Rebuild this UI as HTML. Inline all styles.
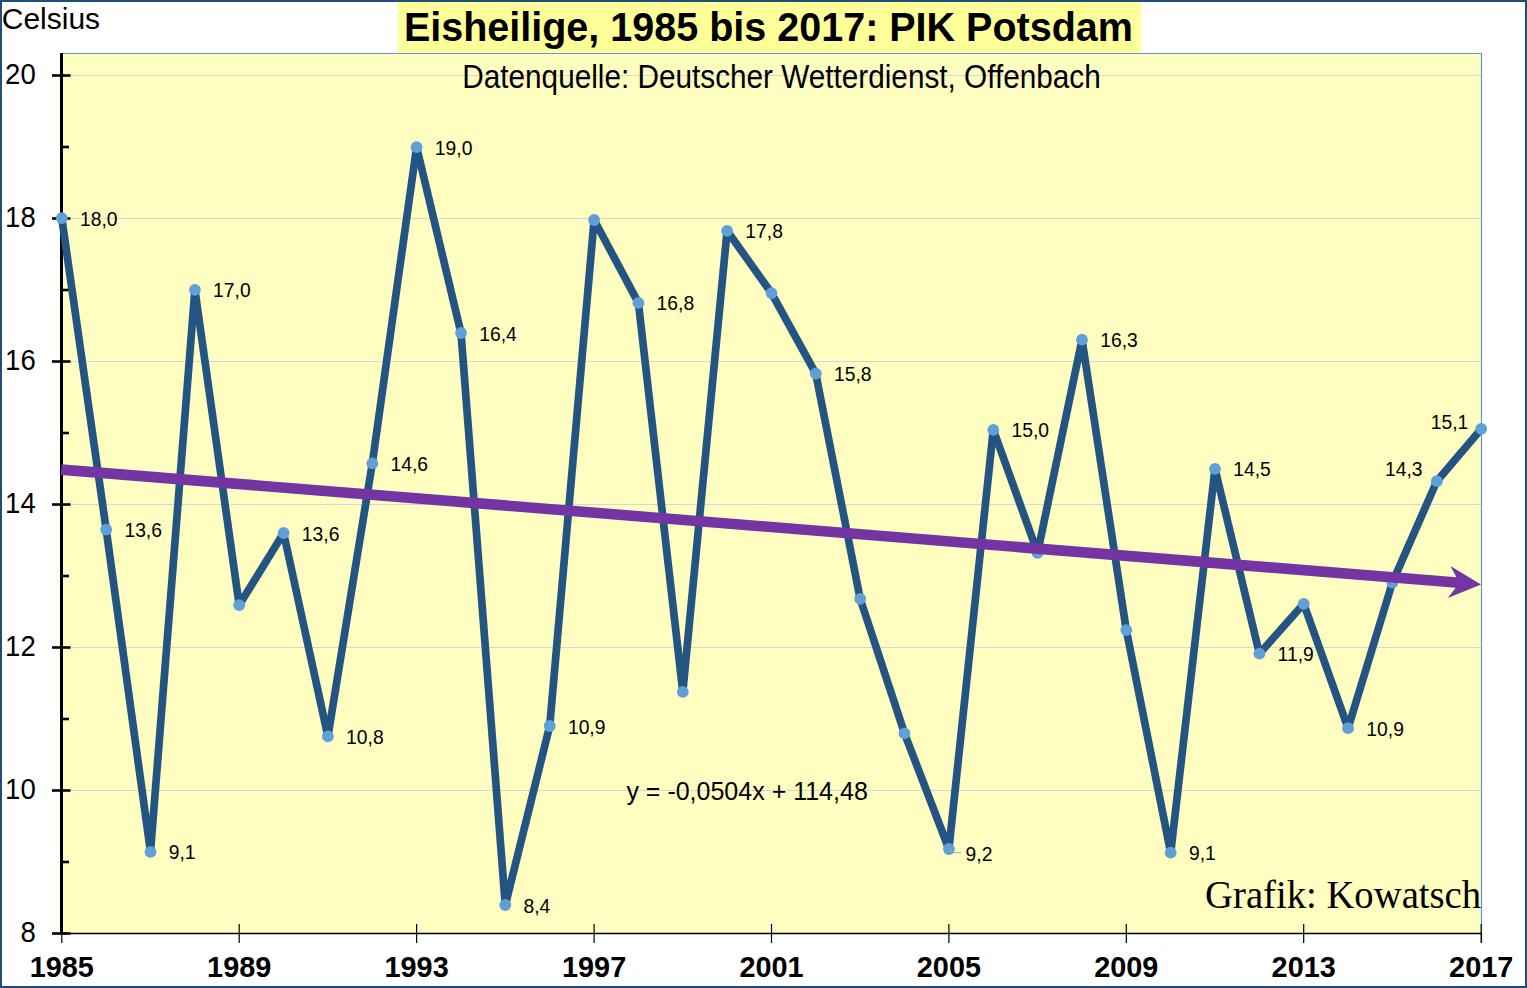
<!DOCTYPE html><html><head><meta charset="utf-8"><style>html,body{margin:0;padding:0;background:#fff;width:1527px;height:988px;overflow:hidden}svg{display:block}text{font-family:"Liberation Sans",sans-serif}</style></head><body>
<svg width="1527" height="988" viewBox="0 0 1527 988">
<rect x="0" y="0" width="1527" height="988" fill="#fff"/>
<rect x="61" y="53" width="1421" height="880.5" fill="#FFFDC0"/>
<line x1="63" y1="790.5" x2="1481" y2="790.5" stroke="#D5D6DA" stroke-width="1.2"/>
<line x1="63" y1="647.5" x2="1481" y2="647.5" stroke="#D5D6DA" stroke-width="1.2"/>
<line x1="63" y1="504.5" x2="1481" y2="504.5" stroke="#D5D6DA" stroke-width="1.2"/>
<line x1="63" y1="361.5" x2="1481" y2="361.5" stroke="#D5D6DA" stroke-width="1.2"/>
<line x1="63" y1="218.5" x2="1481" y2="218.5" stroke="#D5D6DA" stroke-width="1.2"/>
<line x1="63" y1="75.5" x2="1481" y2="75.5" stroke="#D5D6DA" stroke-width="1.2"/>
<line x1="61" y1="53.5" x2="1481.5" y2="53.5" stroke="#5B9BD5" stroke-width="1.2"/>
<line x1="1481.5" y1="53" x2="1481.5" y2="933" stroke="#5B9BD5" stroke-width="1.2"/>
<rect x="398" y="2" width="743" height="50.5" fill="#FFFF99"/>
<text transform="translate(403.9,41) scale(0.988,1)" font-size="40" font-weight="bold" fill="#000">Eisheilige, 1985 bis 2017: PIK Potsdam</text>
<text transform="translate(462.3,87.8) scale(0.888,1)" font-size="33.5" fill="#000">Datenquelle: Deutscher Wetterdienst, Offenbach</text>
<text transform="translate(1.75,28.7)" font-size="30" fill="#000">Celsius</text>
<line x1="61.5" y1="53" x2="61.5" y2="934" stroke="#000" stroke-width="3"/>
<line x1="52" y1="933.5" x2="70.5" y2="933.5" stroke="#000" stroke-width="2.6"/>
<text transform="translate(35.7,941.8) scale(0.94,1)" font-size="29.3" text-anchor="end" fill="#000">8</text>
<line x1="61" y1="862.0" x2="69" y2="862.0" stroke="#000" stroke-width="2.6"/>
<line x1="52" y1="790.5" x2="70.5" y2="790.5" stroke="#000" stroke-width="2.6"/>
<text transform="translate(35.7,798.8) scale(0.94,1)" font-size="29.3" text-anchor="end" fill="#000">10</text>
<line x1="61" y1="719.0" x2="69" y2="719.0" stroke="#000" stroke-width="2.6"/>
<line x1="52" y1="647.5" x2="70.5" y2="647.5" stroke="#000" stroke-width="2.6"/>
<text transform="translate(35.7,655.8) scale(0.94,1)" font-size="29.3" text-anchor="end" fill="#000">12</text>
<line x1="61" y1="576.0" x2="69" y2="576.0" stroke="#000" stroke-width="2.6"/>
<line x1="52" y1="504.5" x2="70.5" y2="504.5" stroke="#000" stroke-width="2.6"/>
<text transform="translate(35.7,512.8) scale(0.94,1)" font-size="29.3" text-anchor="end" fill="#000">14</text>
<line x1="61" y1="433.0" x2="69" y2="433.0" stroke="#000" stroke-width="2.6"/>
<line x1="52" y1="361.5" x2="70.5" y2="361.5" stroke="#000" stroke-width="2.6"/>
<text transform="translate(35.7,369.8) scale(0.94,1)" font-size="29.3" text-anchor="end" fill="#000">16</text>
<line x1="61" y1="290.0" x2="69" y2="290.0" stroke="#000" stroke-width="2.6"/>
<line x1="52" y1="218.5" x2="70.5" y2="218.5" stroke="#000" stroke-width="2.6"/>
<text transform="translate(35.7,226.8) scale(0.94,1)" font-size="29.3" text-anchor="end" fill="#000">18</text>
<line x1="61" y1="147.0" x2="69" y2="147.0" stroke="#000" stroke-width="2.6"/>
<line x1="52" y1="75.5" x2="70.5" y2="75.5" stroke="#000" stroke-width="2.6"/>
<text transform="translate(35.7,83.8) scale(0.94,1)" font-size="29.3" text-anchor="end" fill="#000">20</text>
<line x1="61" y1="933.5" x2="1482" y2="933.5" stroke="#000" stroke-width="1.3"/>
<line x1="61.8" y1="935" x2="61.8" y2="943" stroke="#000" stroke-width="1.2"/>
<text transform="translate(61.8,976.9) scale(0.985,1)" font-size="29.3" font-weight="bold" text-anchor="middle" fill="#000">1985</text>
<line x1="239.2" y1="924" x2="239.2" y2="943" stroke="#000" stroke-width="1.2"/>
<text transform="translate(239.2,976.9) scale(0.985,1)" font-size="29.3" font-weight="bold" text-anchor="middle" fill="#000">1989</text>
<line x1="416.6" y1="924" x2="416.6" y2="943" stroke="#000" stroke-width="1.2"/>
<text transform="translate(416.6,976.9) scale(0.985,1)" font-size="29.3" font-weight="bold" text-anchor="middle" fill="#000">1993</text>
<line x1="594.1" y1="924" x2="594.1" y2="943" stroke="#000" stroke-width="1.2"/>
<text transform="translate(594.1,976.9) scale(0.985,1)" font-size="29.3" font-weight="bold" text-anchor="middle" fill="#000">1997</text>
<line x1="771.5" y1="924" x2="771.5" y2="943" stroke="#000" stroke-width="1.2"/>
<text transform="translate(771.5,976.9) scale(0.985,1)" font-size="29.3" font-weight="bold" text-anchor="middle" fill="#000">2001</text>
<line x1="948.9" y1="924" x2="948.9" y2="943" stroke="#000" stroke-width="1.2"/>
<text transform="translate(948.9,976.9) scale(0.985,1)" font-size="29.3" font-weight="bold" text-anchor="middle" fill="#000">2005</text>
<line x1="1126.3" y1="924" x2="1126.3" y2="943" stroke="#000" stroke-width="1.2"/>
<text transform="translate(1126.3,976.9) scale(0.985,1)" font-size="29.3" font-weight="bold" text-anchor="middle" fill="#000">2009</text>
<line x1="1303.7" y1="924" x2="1303.7" y2="943" stroke="#000" stroke-width="1.2"/>
<text transform="translate(1303.7,976.9) scale(0.985,1)" font-size="29.3" font-weight="bold" text-anchor="middle" fill="#000">2013</text>
<line x1="1481.2" y1="924" x2="1481.2" y2="943" stroke="#000" stroke-width="1.2"/>
<text transform="translate(1481.2,976.9) scale(0.985,1)" font-size="29.3" font-weight="bold" text-anchor="middle" fill="#000">2017</text>
<line x1="1481.5" y1="933" x2="1481.5" y2="943" stroke="#000" stroke-width="1.2"/>
<path d="M61.8,218.1 L106.2,529.6 L150.5,851.8 L194.9,289.8 L239.2,605.1 L283.6,533.0 L327.9,736.4 L372.3,463.3 L416.6,147.2 L461.0,333.0 L505.3,905.0 L549.7,726.0 L594.1,220.0 L638.4,302.9 L682.8,691.8 L727.1,230.8 L771.5,293.1 L815.8,373.7 L860.2,598.9 L904.5,733.3 L948.9,849.0 L993.3,429.8 L1037.6,552.8 L1082.0,339.7 L1126.3,630.1 L1170.7,852.7 L1215.0,468.9 L1259.4,653.7 L1303.7,603.8 L1348.1,728.2 L1392.4,582.5 L1436.8,481.2 L1481.2,428.9" fill="none" stroke="#245582" stroke-width="7.7" stroke-linejoin="round" stroke-linecap="butt"/>
<circle cx="61.8" cy="218.1" r="5.9" fill="#5FA0D8"/>
<circle cx="106.2" cy="529.6" r="5.9" fill="#5FA0D8"/>
<circle cx="150.5" cy="851.8" r="5.9" fill="#5FA0D8"/>
<circle cx="194.9" cy="289.8" r="5.9" fill="#5FA0D8"/>
<circle cx="239.2" cy="605.1" r="5.9" fill="#5FA0D8"/>
<circle cx="283.6" cy="533.0" r="5.9" fill="#5FA0D8"/>
<circle cx="327.9" cy="736.4" r="5.9" fill="#5FA0D8"/>
<circle cx="372.3" cy="463.3" r="5.9" fill="#5FA0D8"/>
<circle cx="416.6" cy="147.2" r="5.9" fill="#5FA0D8"/>
<circle cx="461.0" cy="333.0" r="5.9" fill="#5FA0D8"/>
<circle cx="505.3" cy="905.0" r="5.9" fill="#5FA0D8"/>
<circle cx="549.7" cy="726.0" r="5.9" fill="#5FA0D8"/>
<circle cx="594.1" cy="220.0" r="5.9" fill="#5FA0D8"/>
<circle cx="638.4" cy="302.9" r="5.9" fill="#5FA0D8"/>
<circle cx="682.8" cy="691.8" r="5.9" fill="#5FA0D8"/>
<circle cx="727.1" cy="230.8" r="5.9" fill="#5FA0D8"/>
<circle cx="771.5" cy="293.1" r="5.9" fill="#5FA0D8"/>
<circle cx="815.8" cy="373.7" r="5.9" fill="#5FA0D8"/>
<circle cx="860.2" cy="598.9" r="5.9" fill="#5FA0D8"/>
<circle cx="904.5" cy="733.3" r="5.9" fill="#5FA0D8"/>
<circle cx="948.9" cy="849.0" r="5.9" fill="#5FA0D8"/>
<circle cx="993.3" cy="429.8" r="5.9" fill="#5FA0D8"/>
<circle cx="1037.6" cy="552.8" r="5.9" fill="#5FA0D8"/>
<circle cx="1082.0" cy="339.7" r="5.9" fill="#5FA0D8"/>
<circle cx="1126.3" cy="630.1" r="5.9" fill="#5FA0D8"/>
<circle cx="1170.7" cy="852.7" r="5.9" fill="#5FA0D8"/>
<circle cx="1215.0" cy="468.9" r="5.9" fill="#5FA0D8"/>
<circle cx="1259.4" cy="653.7" r="5.9" fill="#5FA0D8"/>
<circle cx="1303.7" cy="603.8" r="5.9" fill="#5FA0D8"/>
<circle cx="1348.1" cy="728.2" r="5.9" fill="#5FA0D8"/>
<circle cx="1392.4" cy="582.5" r="5.9" fill="#5FA0D8"/>
<circle cx="1436.8" cy="481.2" r="5.9" fill="#5FA0D8"/>
<circle cx="1481.2" cy="428.9" r="5.9" fill="#5FA0D8"/>
<line x1="61.2" y1="469.6" x2="1459.1" y2="582.7" stroke="#7434A4" stroke-width="10.6"/>
<polygon points="1481.0,584.5 1450.4,566.0 1456.5,577.3 1455.7,587.7 1447.8,597.9" fill="#7434A4"/>
<text transform="translate(80.0,225.6) scale(0.92,1)" font-size="21" fill="#000">18,0</text>
<text transform="translate(124.4,537.1) scale(0.92,1)" font-size="21" fill="#000">13,6</text>
<text transform="translate(168.7,859.3) scale(0.92,1)" font-size="21" fill="#000">9,1</text>
<text transform="translate(213.1,297.3) scale(0.92,1)" font-size="21" fill="#000">17,0</text>
<text transform="translate(301.8,540.5) scale(0.92,1)" font-size="21" fill="#000">13,6</text>
<text transform="translate(346.1,743.9) scale(0.92,1)" font-size="21" fill="#000">10,8</text>
<text transform="translate(390.5,470.8) scale(0.92,1)" font-size="21" fill="#000">14,6</text>
<text transform="translate(434.8,154.7) scale(0.92,1)" font-size="21" fill="#000">19,0</text>
<text transform="translate(479.2,340.5) scale(0.92,1)" font-size="21" fill="#000">16,4</text>
<text transform="translate(523.5,912.5) scale(0.92,1)" font-size="21" fill="#000">8,4</text>
<text transform="translate(567.9,733.5) scale(0.92,1)" font-size="21" fill="#000">10,9</text>
<text transform="translate(656.6,310.4) scale(0.92,1)" font-size="21" fill="#000">16,8</text>
<text transform="translate(745.3,238.3) scale(0.92,1)" font-size="21" fill="#000">17,8</text>
<text transform="translate(834.0,381.2) scale(0.92,1)" font-size="21" fill="#000">15,8</text>
<text transform="translate(1011.5,437.3) scale(0.92,1)" font-size="21" fill="#000">15,0</text>
<text transform="translate(1100.2,347.2) scale(0.92,1)" font-size="21" fill="#000">16,3</text>
<text transform="translate(1188.9,860.2) scale(0.92,1)" font-size="21" fill="#000">9,1</text>
<text transform="translate(1233.2,476.4) scale(0.92,1)" font-size="21" fill="#000">14,5</text>
<text transform="translate(1277.6,661.2) scale(0.92,1)" font-size="21" fill="#000">11,9</text>
<text transform="translate(1366.3,735.7) scale(0.92,1)" font-size="21" fill="#000">10,9</text>
<text transform="translate(965.6,861) scale(0.92,1)" font-size="21" fill="#000">9,2</text>
<text transform="translate(1385,475.7) scale(0.92,1)" font-size="21" fill="#000">14,3</text>
<text transform="translate(1430.7,428.5) scale(0.92,1)" font-size="21" fill="#000">15,1</text>
<path d="M949.8,848.3 L951.8,852.6 L961,852.6" fill="none" stroke="#A6A6A6" stroke-width="1"/>
<text transform="translate(626.4,799.8)" font-size="25" fill="#000">y = -0,0504x + 114,48</text>
<text transform="translate(1205.1,907.5) scale(0.992,1)" font-size="39" fill="#000" style="font-family:'Liberation Serif',serif">Grafik: Kowatsch</text>
<rect x="1" y="1" width="1525" height="986" fill="none" stroke="#1F4E79" stroke-width="2"/>
</svg></body></html>
